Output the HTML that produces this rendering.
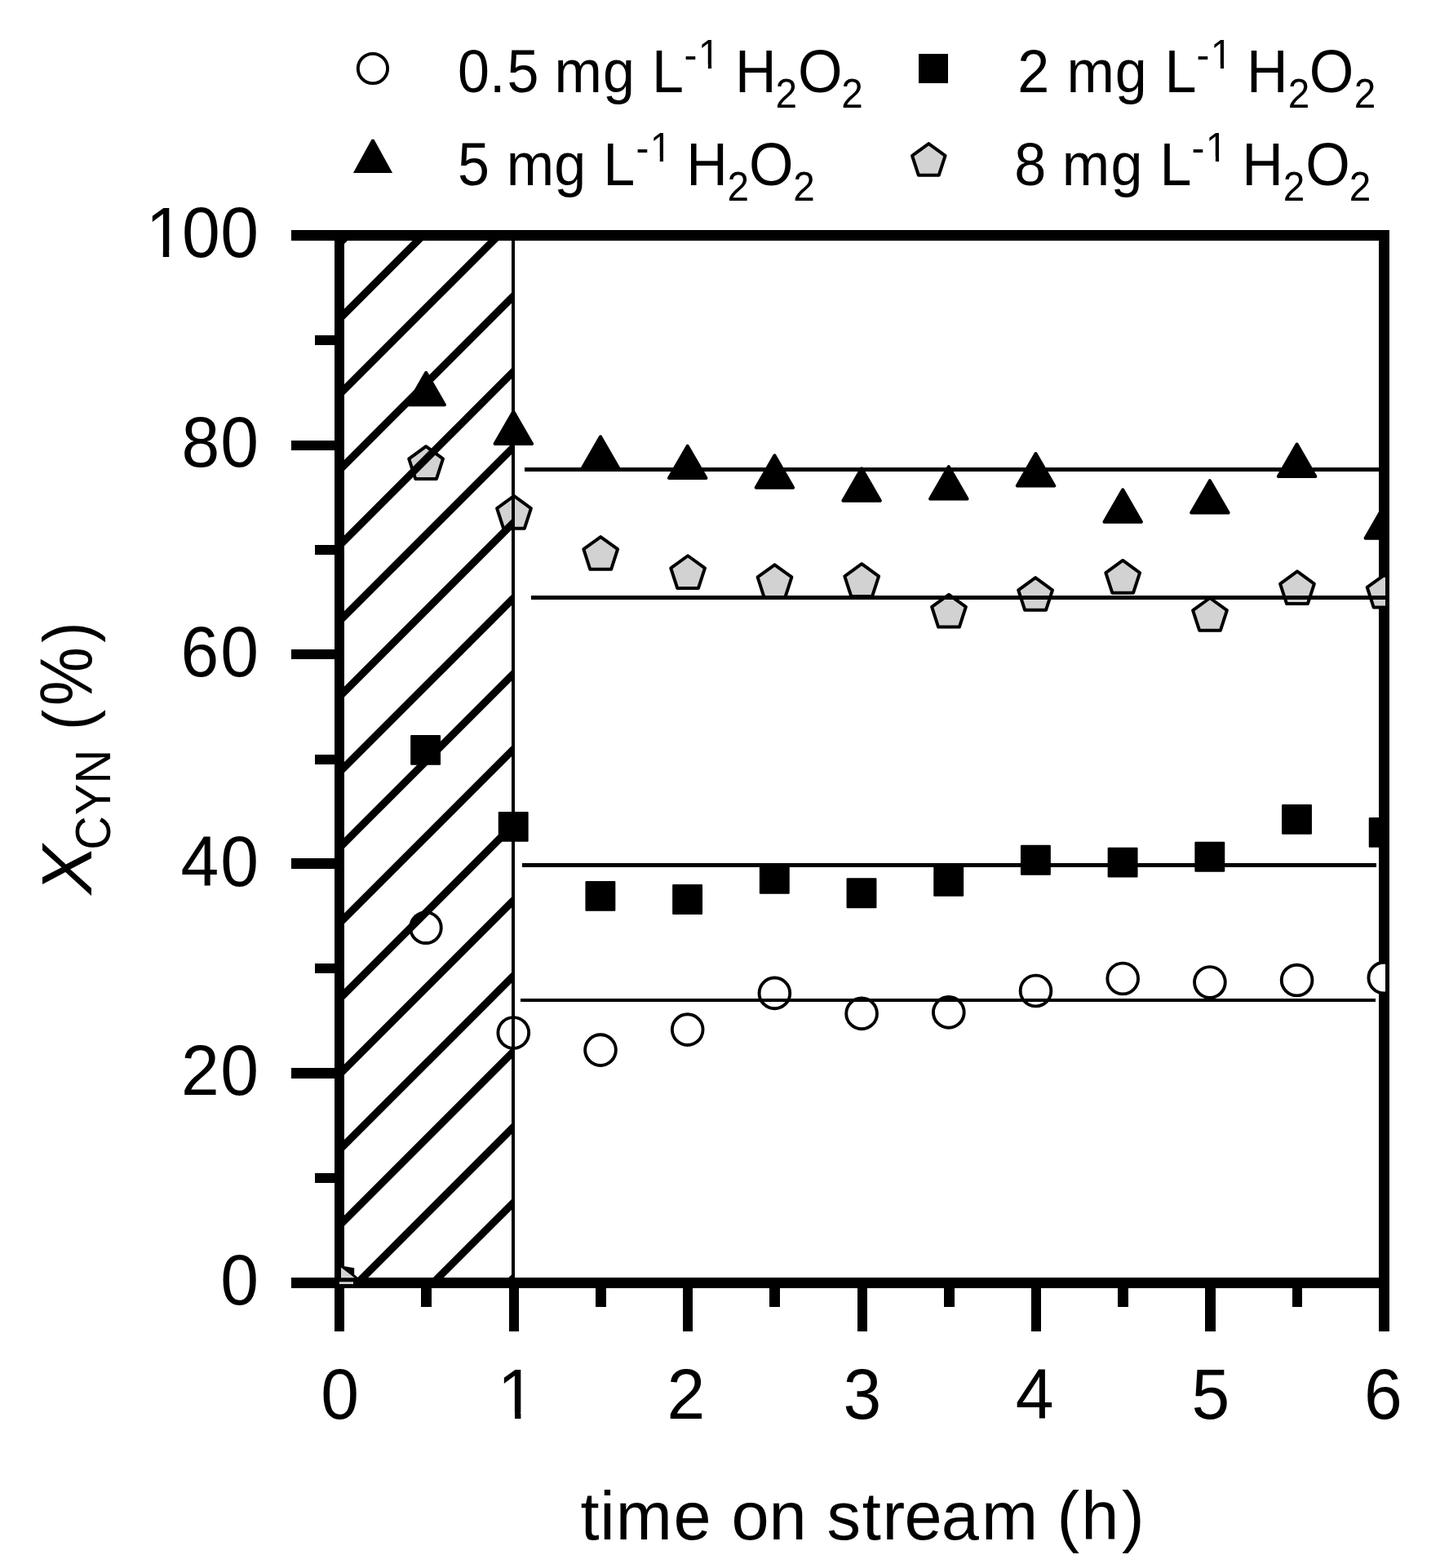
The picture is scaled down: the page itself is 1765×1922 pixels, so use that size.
<!DOCTYPE html>
<html lang="en">
<head>
<meta charset="utf-8">
<title>X CYN (%) vs time on stream (h)</title>
<style>
html, body { margin: 0; padding: 0; background: #ffffff; }
body { width: 1765px; height: 1922px; overflow: hidden; font-family: "Liberation Sans", sans-serif; }
svg { display: block; position: absolute; left: 0; top: 0; }
text { font-family: "Liberation Sans", sans-serif; fill: #000; white-space: pre; }
</style>
</head>
<body>
<svg width="1765" height="1922" viewBox="0 0 1765 1922">
<rect x="0" y="0" width="1765" height="1922" fill="#ffffff"/>
<g id="axes" shape-rendering="crispEdges">
<rect x="410.00" y="282.00" width="12.00" height="1350.00" fill="#000" />
<rect x="1690.00" y="282.00" width="13.00" height="1350.00" fill="#000" />
<rect x="357.00" y="282.00" width="1346.00" height="13.00" fill="#000" />
<rect x="357.00" y="1566.00" width="1346.00" height="13.00" fill="#000" />
<rect x="386.00" y="411.00" width="25.00" height="12.00" fill="#000" />
<rect x="357.00" y="540.00" width="54.00" height="12.00" fill="#000" />
<rect x="386.00" y="668.00" width="25.00" height="12.00" fill="#000" />
<rect x="357.00" y="796.00" width="54.00" height="12.00" fill="#000" />
<rect x="386.00" y="925.00" width="25.00" height="12.00" fill="#000" />
<rect x="357.00" y="1052.00" width="54.00" height="13.00" fill="#000" />
<rect x="386.00" y="1181.00" width="25.00" height="12.00" fill="#000" />
<rect x="357.00" y="1309.00" width="54.00" height="13.00" fill="#000" />
<rect x="386.00" y="1438.00" width="25.00" height="12.00" fill="#000" />
<rect x="516.00" y="1578.00" width="13.00" height="24.00" fill="#000" />
<rect x="624.00" y="1578.00" width="12.00" height="54.00" fill="#000" />
<rect x="730.00" y="1578.00" width="13.00" height="24.00" fill="#000" />
<rect x="837.00" y="1578.00" width="12.00" height="54.00" fill="#000" />
<rect x="943.00" y="1578.00" width="13.00" height="24.00" fill="#000" />
<rect x="1051.00" y="1578.00" width="12.00" height="54.00" fill="#000" />
<rect x="1157.00" y="1578.00" width="13.00" height="24.00" fill="#000" />
<rect x="1264.00" y="1578.00" width="12.00" height="54.00" fill="#000" />
<rect x="1370.00" y="1578.00" width="13.00" height="24.00" fill="#000" />
<rect x="1477.00" y="1578.00" width="13.00" height="54.00" fill="#000" />
<rect x="1584.00" y="1578.00" width="12.00" height="24.00" fill="#000" />
</g>
<clipPath id="plotclip"><rect x="418.0" y="288" width="1280.0" height="1284.5"/></clipPath>
<g id="symbols" clip-path="url(#plotclip)">
<circle cx="521.90" cy="1137.20" r="18.85" fill="#fff" stroke="#000" stroke-width="3.9" />
<circle cx="629.30" cy="1266.00" r="18.85" fill="#fff" stroke="#000" stroke-width="3.9" />
<circle cx="736.00" cy="1287.10" r="18.85" fill="#fff" stroke="#000" stroke-width="3.9" />
<circle cx="842.70" cy="1262.10" r="18.85" fill="#fff" stroke="#000" stroke-width="3.9" />
<circle cx="949.40" cy="1217.40" r="18.85" fill="#fff" stroke="#000" stroke-width="3.9" />
<circle cx="1056.10" cy="1242.40" r="18.85" fill="#fff" stroke="#000" stroke-width="3.9" />
<circle cx="1162.80" cy="1240.90" r="18.85" fill="#fff" stroke="#000" stroke-width="3.9" />
<circle cx="1269.50" cy="1214.50" r="18.85" fill="#fff" stroke="#000" stroke-width="3.9" />
<circle cx="1376.20" cy="1199.50" r="18.85" fill="#fff" stroke="#000" stroke-width="3.9" />
<circle cx="1482.90" cy="1204.00" r="18.85" fill="#fff" stroke="#000" stroke-width="3.9" />
<circle cx="1589.60" cy="1201.55" r="18.85" fill="#fff" stroke="#000" stroke-width="3.9" />
<circle cx="1696.30" cy="1198.60" r="18.85" fill="#fff" stroke="#000" stroke-width="3.9" />
<rect x="504.15" y="901.95" width="34.90" height="34.90" fill="#000" stroke="#000" stroke-width="2.0" stroke-linejoin="round"/>
<rect x="611.75" y="995.95" width="34.90" height="34.90" fill="#000" stroke="#000" stroke-width="2.0" stroke-linejoin="round"/>
<rect x="718.45" y="1080.95" width="34.90" height="34.90" fill="#000" stroke="#000" stroke-width="2.0" stroke-linejoin="round"/>
<rect x="825.15" y="1085.00" width="34.90" height="34.90" fill="#000" stroke="#000" stroke-width="2.0" stroke-linejoin="round"/>
<rect x="931.85" y="1059.85" width="34.90" height="34.90" fill="#000" stroke="#000" stroke-width="2.0" stroke-linejoin="round"/>
<rect x="1038.55" y="1077.25" width="34.90" height="34.90" fill="#000" stroke="#000" stroke-width="2.0" stroke-linejoin="round"/>
<rect x="1145.25" y="1062.95" width="34.90" height="34.90" fill="#000" stroke="#000" stroke-width="2.0" stroke-linejoin="round"/>
<rect x="1251.95" y="1036.85" width="34.90" height="34.90" fill="#000" stroke="#000" stroke-width="2.0" stroke-linejoin="round"/>
<rect x="1358.65" y="1039.65" width="34.90" height="34.90" fill="#000" stroke="#000" stroke-width="2.0" stroke-linejoin="round"/>
<rect x="1465.35" y="1032.85" width="34.90" height="34.90" fill="#000" stroke="#000" stroke-width="2.0" stroke-linejoin="round"/>
<rect x="1572.05" y="986.95" width="34.90" height="34.90" fill="#000" stroke="#000" stroke-width="2.0" stroke-linejoin="round"/>
<rect x="1678.75" y="1002.95" width="34.90" height="34.90" fill="#000" stroke="#000" stroke-width="2.0" stroke-linejoin="round"/>
<polygon points="522.20,456.80 544.95,496.20 499.45,496.20" fill="#000" stroke="#000" stroke-width="4.0" stroke-linejoin="round"/>
<polygon points="629.30,504.60 652.05,544.00 606.55,544.00" fill="#000" stroke="#000" stroke-width="4.0" stroke-linejoin="round"/>
<polygon points="736.00,535.30 758.75,574.70 713.25,574.70" fill="#000" stroke="#000" stroke-width="4.0" stroke-linejoin="round"/>
<polygon points="842.70,546.70 865.45,586.10 819.95,586.10" fill="#000" stroke="#000" stroke-width="4.0" stroke-linejoin="round"/>
<polygon points="949.40,558.35 972.15,597.75 926.65,597.75" fill="#000" stroke="#000" stroke-width="4.0" stroke-linejoin="round"/>
<polygon points="1056.10,574.30 1078.85,613.70 1033.35,613.70" fill="#000" stroke="#000" stroke-width="4.0" stroke-linejoin="round"/>
<polygon points="1162.80,572.10 1185.55,611.50 1140.05,611.50" fill="#000" stroke="#000" stroke-width="4.0" stroke-linejoin="round"/>
<polygon points="1269.50,556.10 1292.25,595.50 1246.75,595.50" fill="#000" stroke="#000" stroke-width="4.0" stroke-linejoin="round"/>
<polygon points="1376.20,600.35 1398.95,639.75 1353.45,639.75" fill="#000" stroke="#000" stroke-width="4.0" stroke-linejoin="round"/>
<polygon points="1482.90,589.20 1505.65,628.60 1460.15,628.60" fill="#000" stroke="#000" stroke-width="4.0" stroke-linejoin="round"/>
<polygon points="1589.60,544.60 1612.35,584.00 1566.85,584.00" fill="#000" stroke="#000" stroke-width="4.0" stroke-linejoin="round"/>
<polygon points="1696.30,620.30 1719.05,659.70 1673.55,659.70" fill="#000" stroke="#000" stroke-width="4.0" stroke-linejoin="round"/>
<polygon points="522.10,547.20 542.98,562.37 535.00,586.91 509.20,586.91 501.22,562.37" fill="#d2d2d2" stroke="#000" stroke-width="4.0" stroke-linejoin="round"/>
<polygon points="630.00,607.95 650.88,623.12 642.90,647.66 617.10,647.66 609.12,623.12" fill="#d2d2d2" stroke="#000" stroke-width="4.0" stroke-linejoin="round"/>
<polygon points="736.20,658.05 757.08,673.22 749.10,697.76 723.30,697.76 715.32,673.22" fill="#d2d2d2" stroke="#000" stroke-width="4.0" stroke-linejoin="round"/>
<polygon points="843.10,681.25 863.98,696.42 856.00,720.96 830.20,720.96 822.22,696.42" fill="#d2d2d2" stroke="#000" stroke-width="4.0" stroke-linejoin="round"/>
<polygon points="949.50,692.30 970.38,707.47 962.40,732.01 936.60,732.01 928.62,707.47" fill="#d2d2d2" stroke="#000" stroke-width="4.0" stroke-linejoin="round"/>
<polygon points="1056.20,691.20 1077.08,706.37 1069.10,730.91 1043.30,730.91 1035.32,706.37" fill="#d2d2d2" stroke="#000" stroke-width="4.0" stroke-linejoin="round"/>
<polygon points="1163.00,728.80 1183.88,743.97 1175.90,768.51 1150.10,768.51 1142.12,743.97" fill="#d2d2d2" stroke="#000" stroke-width="4.0" stroke-linejoin="round"/>
<polygon points="1269.10,708.15 1289.98,723.32 1282.00,747.86 1256.20,747.86 1248.22,723.32" fill="#d2d2d2" stroke="#000" stroke-width="4.0" stroke-linejoin="round"/>
<polygon points="1376.20,686.95 1397.08,702.12 1389.10,726.66 1363.30,726.66 1355.32,702.12" fill="#d2d2d2" stroke="#000" stroke-width="4.0" stroke-linejoin="round"/>
<polygon points="1483.00,733.00 1503.88,748.17 1495.90,772.71 1470.10,772.71 1462.12,748.17" fill="#d2d2d2" stroke="#000" stroke-width="4.0" stroke-linejoin="round"/>
<polygon points="1590.00,700.40 1610.88,715.57 1602.90,740.11 1577.10,740.11 1569.12,715.57" fill="#d2d2d2" stroke="#000" stroke-width="4.0" stroke-linejoin="round"/>
<polygon points="1696.60,704.80 1717.48,719.97 1709.50,744.51 1683.70,744.51 1675.72,719.97" fill="#d2d2d2" stroke="#000" stroke-width="4.0" stroke-linejoin="round"/>
</g>
<g id="origin">
<polygon points="418,1553 434.5,1566.2 418,1566.2" fill="#d2d2d2"/>
<polygon points="418,1551.2 422.5,1552.2 434.2,1554.2 434.2,1562.2 439,1566.2 434.5,1566.2 418,1553.5" fill="#000"/>
<rect x="416" y="1571.2" width="17" height="2.8" fill="#d2d2d2"/>
</g>
<clipPath id="hatchclip"><rect x="416.0" y="294.5" width="213.0" height="1272.00"/></clipPath>
<g id="hatch" clip-path="url(#hatchclip)" stroke="#000" stroke-width="9.2" fill="none">
<line x1="396.0" y1="318.40" x2="649.0" y2="65.40"/>
<line x1="396.0" y1="411.00" x2="649.0" y2="158.00"/>
<line x1="396.0" y1="503.60" x2="649.0" y2="250.60"/>
<line x1="396.0" y1="596.20" x2="649.0" y2="343.20"/>
<line x1="396.0" y1="688.80" x2="649.0" y2="435.80"/>
<line x1="396.0" y1="781.40" x2="649.0" y2="528.40"/>
<line x1="396.0" y1="874.00" x2="649.0" y2="621.00"/>
<line x1="396.0" y1="966.60" x2="649.0" y2="713.60"/>
<line x1="396.0" y1="1059.20" x2="649.0" y2="806.20"/>
<line x1="396.0" y1="1151.80" x2="649.0" y2="898.80"/>
<line x1="396.0" y1="1244.40" x2="649.0" y2="991.40"/>
<line x1="396.0" y1="1337.00" x2="649.0" y2="1084.00"/>
<line x1="396.0" y1="1429.60" x2="649.0" y2="1176.60"/>
<line x1="396.0" y1="1522.20" x2="649.0" y2="1269.20"/>
<line x1="396.0" y1="1614.80" x2="649.0" y2="1361.80"/>
<line x1="396.0" y1="1707.40" x2="649.0" y2="1454.40"/>
<line x1="396.0" y1="1800.00" x2="649.0" y2="1547.00"/>
<line x1="396.0" y1="1892.60" x2="649.0" y2="1639.60"/>
</g>
<g id="reflines" shape-rendering="crispEdges">
<rect x="627.00" y="294.00" width="4.00" height="1273.00" fill="#000" />
<rect x="643.00" y="573.00" width="1048.00" height="5.00" fill="#000" />
<rect x="651.00" y="730.00" width="1047.00" height="5.00" fill="#000" />
<rect x="640.00" y="1058.00" width="1047.00" height="5.00" fill="#000" />
<rect x="638.00" y="1224.00" width="1048.00" height="4.00" fill="#000" />
</g>
<g id="labels" font-family="'Liberation Sans', sans-serif" fill="#000">
<text transform="scale(0.955,1)"><tspan x="282.86" y="1599.30" font-size="88.0">0</tspan></text>
<text transform="scale(0.955,1)"><tspan x="232.49 282.86" y="1342.50" font-size="88.0">20</tspan></text>
<text transform="scale(0.955,1)"><tspan x="231.83 282.86" y="1085.70" font-size="88.0">40</tspan></text>
<text transform="scale(0.955,1)"><tspan x="231.98 282.86" y="828.90" font-size="88.0">60</tspan></text>
<text transform="scale(0.955,1)"><tspan x="233.12 282.86" y="572.10" font-size="88.0">80</tspan></text>
<text transform="scale(0.955,1)"><tspan x="187.06 233.64 282.86" y="315.30" font-size="88.0">100</tspan></text>
<text transform="scale(0.955,1)"><tspan x="411.71" y="1738.90" font-size="88.0">0</tspan></text>
<text transform="scale(0.955,1)"><tspan x="638.58" y="1738.90" font-size="88.0">1</tspan></text>
<text transform="scale(0.955,1)"><tspan x="856.16" y="1738.90" font-size="88.0">2</tspan></text>
<text transform="scale(0.955,1)"><tspan x="1082.23" y="1738.90" font-size="88.0">3</tspan></text>
<text transform="scale(0.955,1)"><tspan x="1303.50" y="1738.90" font-size="88.0">4</tspan></text>
<text transform="scale(0.955,1)"><tspan x="1529.28" y="1738.90" font-size="88.0">5</tspan></text>
<text transform="scale(0.955,1)"><tspan x="1750.67" y="1738.90" font-size="88.0">6</tspan></text>
<text id="xtitle"><tspan x="711.60 735.35 754.86 825.55 871.71 896.47 942.41 988.57 1013.54 1056.65 1081.51 1108.60 1153.76 1203.06 1272.20 1295.45 1325.34 1375.11" y="1886.80" font-size="83.0">time on stream (h)</tspan></text>
<text id="ytitle" transform="translate(112.1,1098.2) rotate(-90) scale(1.03,1)"><tspan x="2.01" y="0.00" font-size="88.0" font-style="italic">X</tspan></text>
<text transform="translate(112.1,1098.2) rotate(-90) scale(0.95,1)"><tspan x="59.50 104.25 145.03" y="22.90" font-size="60.8">CYN</tspan></text>
<text transform="translate(112.1,1098.2) rotate(-90) scale(0.9,1)"><tspan x="225.82" y="0.00" font-size="84.0">(</tspan><tspan x="258.71" y="0.00" font-size="90.0">%</tspan><tspan x="344.82" y="0.00" font-size="84.0">)</tspan></text>
<text transform="scale(0.95,1)"><tspan x="590.64 631.70 654.08 695.12 715.35 777.83 818.88 841.04" y="113.30" font-size="73.8">0.5 mg L</tspan><tspan x="882.62 900.91" y="83.90" font-size="50.3">-1</tspan><tspan x="928.88 948.54" y="113.30" font-size="73.8"> H</tspan><tspan x="1000.59" y="132.10" font-size="50.3">2</tspan><tspan x="1029.37" y="113.30" font-size="73.8">O</tspan><tspan x="1085.43" y="132.10" font-size="50.3">2</tspan></text>
<text transform="scale(0.95,1)"><tspan x="590.50 631.54 653.35 715.10 756.14 778.26" y="227.00" font-size="73.8">5 mg L</tspan><tspan x="820.52 838.70" y="197.60" font-size="50.3">-1</tspan><tspan x="866.67 885.60" y="227.00" font-size="73.8"> H</tspan><tspan x="938.49" y="245.80" font-size="50.3">2</tspan><tspan x="966.26" y="227.00" font-size="73.8">O</tspan><tspan x="1023.43" y="245.80" font-size="50.3">2</tspan></text>
<text transform="scale(0.95,1)"><tspan x="1312.79 1353.84 1376.30 1438.73 1479.77 1502.52" y="113.30" font-size="73.8">2 mg L</tspan><tspan x="1543.62 1561.96" y="83.90" font-size="50.3">-1</tspan><tspan x="1589.93 1608.44" y="113.30" font-size="73.8"> H</tspan><tspan x="1661.80" y="132.10" font-size="50.3">2</tspan><tspan x="1689.32" y="113.30" font-size="73.8">O</tspan><tspan x="1747.07" y="132.10" font-size="50.3">2</tspan></text>
<text transform="scale(0.95,1)"><tspan x="1308.69 1349.73 1370.30 1433.20 1474.25 1496.20" y="227.00" font-size="73.8">8 mg L</tspan><tspan x="1537.36 1555.64" y="197.60" font-size="50.3">-1</tspan><tspan x="1583.62 1602.33" y="227.00" font-size="73.8"> H</tspan><tspan x="1655.59" y="245.80" font-size="50.3">2</tspan><tspan x="1684.47" y="227.00" font-size="73.8">O</tspan><tspan x="1740.85" y="245.80" font-size="50.3">2</tspan></text>
</g>
<g id="footmask" fill="#fff">
<rect x="183.97" y="307.00" width="15.80" height="9.80" fill="#fff" />
<rect x="207.20" y="307.00" width="15.14" height="9.80" fill="#fff" />
<rect x="615.17" y="1731.00" width="15.80" height="9.40" fill="#fff" />
<rect x="638.40" y="1731.00" width="15.14" height="9.40" fill="#fff" />
<rect x="858.89" y="79.00" width="8.98" height="6.40" fill="#fff" />
<rect x="872.10" y="79.00" width="8.61" height="6.40" fill="#fff" />
<rect x="799.79" y="192.00" width="8.98" height="7.10" fill="#fff" />
<rect x="813.00" y="192.00" width="8.61" height="7.10" fill="#fff" />
<rect x="1486.89" y="79.00" width="8.98" height="6.40" fill="#fff" />
<rect x="1500.10" y="79.00" width="8.61" height="6.40" fill="#fff" />
<rect x="1480.89" y="192.00" width="8.98" height="7.10" fill="#fff" />
<rect x="1494.10" y="192.00" width="8.61" height="7.10" fill="#fff" />
</g>
<g id="legendsym">
<circle cx="456.95" cy="84.00" r="18.15" fill="#fff" stroke="#000" stroke-width="3.9"/>
<rect x="1126" y="66" width="36" height="36" fill="#000"/>
<polygon points="455.6,170.8 458.4,170.8 481.1,211.9 432.9,211.9" fill="#000"/>
<polygon points="1138.30,176.10 1158.56,190.82 1150.82,214.63 1125.78,214.63 1118.04,190.82" fill="#d2d2d2" stroke="#000" stroke-width="4.0" stroke-linejoin="round"/>
</g>
</svg>
</body>
</html>
